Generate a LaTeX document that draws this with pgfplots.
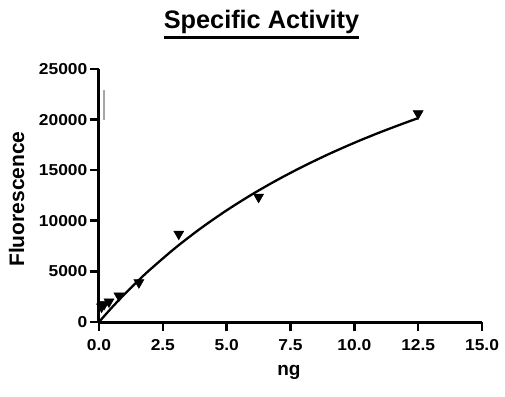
\documentclass[border=0pt]{standalone}
\usepackage{pgfplots}
\pgfplotsset{compat=1.18}
\usepackage{fontspec}
\setmainfont{Liberation Sans}
\newfontfamily\tickfont[FakeStretch=1.1]{Liberation Sans}
\newcommand\thickul[1]{\setbox0\hbox{#1}\vtop{\copy0\kern2.4pt\hrule height 3pt width \wd0}}
\begin{document}
\begin{tikzpicture}
\path[use as bounding box] (-99pt,-74pt) rectangle (406pt,322pt);
\begin{axis}[
  at={(0pt,0pt)}, anchor=south west,
  width=383pt, height=253pt, scale only axis,
  xmin=0, xmax=15, ymin=0, ymax=25000,
  axis lines*=left,
  axis line style={line width=3pt},
  xtick={0,2.5,5,7.5,10,12.5,15},
  ytick={0,5000,10000,15000,20000,25000},
  scaled y ticks=false, scaled x ticks=false,
  xticklabel style={/pgf/number format/fixed, /pgf/number format/fixed zerofill, /pgf/number format/precision=1, yshift=-5pt},
  yticklabel style={/pgf/number format/1000 sep={}, inner xsep=2.5pt},
  /pgf/number format/assume math mode=true,
  ticklabel style={font=\tickfont\fontsize{15.8}{18}\selectfont\bfseries},
  tick align=outside, major tick length=9pt,
  tick style={line width=2.6pt, black},
  clip=false,
  every axis title shift=0pt,
  title={\thickul{Specific Activity}},
  title style={font=\fontsize{25.3}{29}\selectfont\bfseries, anchor=base, at={(axis description cs:0.4243,1.1612)}},
  xlabel={ng},
  xlabel style={font=\fontsize{19}{22}\selectfont\bfseries, anchor=center, at={(axis description cs:0.496,-0.198)}},
  ylabel={Fluorescence},
  ylabel style={font=\fontsize{21}{25}\selectfont\bfseries, anchor=center, rotate=0, at={(axis description cs:-0.2154,0.486)}},
]
\addplot[black, line width=2.3pt, smooth] coordinates {
(0,0) (0.5,1418) (1,2748) (1.5,4000) (2,5179) (3,7344) (4,9285) (5,11034)
(6,12620) (7,14063) (8,15382) (9,16593) (10,17708) (11,18738) (12,19692) (12.5,20144)};
\addplot[only marks, mark=triangle*, mark size=5.8pt, mark options={rotate=180, fill=black, draw=black, line width=0.5pt}] coordinates {
(0.1,1500) (0.2,1750) (0.39,2000) (0.78,2600) (1.5625,3900) (3.125,8700) (6.25,12350) (12.5,20600)};
\addplot[gray!70, line width=2pt] coordinates {(0.2,20000) (0.2,22900)};
\end{axis}
\end{tikzpicture}
\end{document}
